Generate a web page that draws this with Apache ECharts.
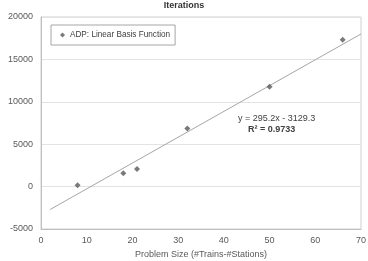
<!DOCTYPE html>
<html>
<head>
<meta charset="utf-8">
<script src="https://cdn.jsdelivr.net/npm/echarts@6/dist/echarts.min.js"></script>
<style>
  html, body { margin: 0; padding: 0; background: #fff; }
  #chart { width: 368px; height: 261px; }
</style>
</head>
<body>
<div id="chart"></div>
<script>
// problem size vs iterations
const problemSize = [8, 18, 21, 32, 50, 66];
const iterations = [150, 1570, 2070, 6860, 11780, 17330];

// trendline ends
const trendX = [2, 70];
const trendY = [-2700, 18000];

const FONT = 'Liberation Sans';
const LABELCOLOR = '#595959';

const chart = echarts.init(document.getElementById('chart'));

chart.setOption({
  animation: false,
  backgroundColor: '#fff',
  textStyle: { fontFamily: FONT },
  title: {
    text: 'Iterations',
    left: 'center',
    top: -4,
    textStyle: { fontSize: 9, fontWeight: 'bold', color: '#333', fontFamily: FONT }
  },
  grid: {
    left: 41, right: 7, top: 17, bottom: 32,
    containLabel: false,
    outerBoundsMode: 'none',
    show: true, borderColor: '#d0d0d0', borderWidth: 1
  },
  legend: {
    data: ['ADP: Linear Basis Function'],
    left: 51, top: 25,
    padding: [6, 5, 6, 9],
    borderColor: '#a6a6a6', borderWidth: 1,
    itemWidth: 5, itemHeight: 5, itemGap: 3,
    icon: 'diamond',
    textStyle: { fontSize: 8.2, color: '#404040', fontFamily: FONT }
  },
  xAxis: {
    type: 'value',
    min: 0, max: 70, interval: 10,
    name: 'Problem Size (#Trains-#Stations)',
    nameLocation: 'middle', nameGap: 20,
    nameTextStyle: { fontSize: 9, color: LABELCOLOR },
    axisLine: { show: true, onZero: false, lineStyle: { color: '#bfbfbf' } },
    axisTick: { show: false },
    axisLabel: { fontSize: 9, color: LABELCOLOR, margin: 7 },
    splitLine: { show: false }
  },
  yAxis: {
    type: 'value',
    min: -5000, max: 20000, interval: 5000,
    name: 'Iterations to Convergence (Gap < 0.05)',
    nameLocation: 'middle', nameGap: 31,
    nameTextStyle: { fontSize: 9, color: LABELCOLOR },
    axisLine: { show: true, onZero: false, lineStyle: { color: '#bfbfbf' } },
    axisTick: { show: false },
    axisLabel: { fontSize: 9, color: LABELCOLOR, margin: 8, formatter: v => String(v) },
    splitLine: { show: true, lineStyle: { color: '#e3e3e3' } }
  },
  series: [
    {
      name: 'ADP: Linear Basis Function',
      type: 'scatter',
      symbol: 'diamond',
      symbolSize: 6,
      itemStyle: { color: '#595959' },
      data: problemSize.map((x, i) => [x, iterations[i]]),
      z: 3
    },
    {
      name: 'trend',
      type: 'line',
      showSymbol: false,
      symbol: 'none',
      lineStyle: { color: '#a6a6a6', width: 1 },
      data: trendX.map((x, i) => [x, trendY[i]]),
      z: 2
    }
  ],
  graphic: [
    {
      type: 'text',
      left: 238, top: 114,
      style: {
        text: 'y = 295.2x - 3129.3',
        fontSize: 9, fill: '#404040', fontFamily: FONT
      }
    },
    {
      type: 'text',
      left: 248, top: 125,
      style: {
        text: '{b|R² = 0.9733}',
        rich: { b: { fontSize: 9, fontWeight: 'bold', fill: '#404040', fontFamily: FONT } }
      }
    }
  ]
});
</script>
</body>
</html>
